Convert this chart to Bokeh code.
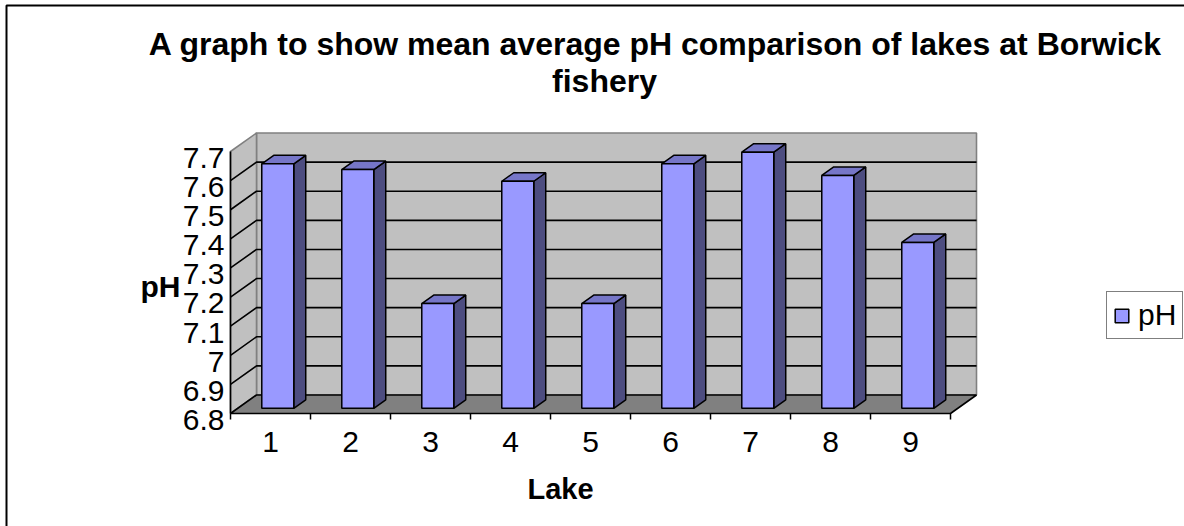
from bokeh.plotting import figure
from bokeh.models import (FixedTicker, CustomJSTickFormatter, Label, Legend,
                          LegendItem, Range1d)
from bokeh.embed import file_html
from bokeh.resources import INLINE

# ---------------- data ----------------
lakes = ["1", "2", "3", "4", "5", "6", "7", "8", "9"]
ph = [7.64, 7.62, 7.16, 7.58, 7.16, 7.64, 7.68, 7.60, 7.37]
y_ticks = [6.8, 6.9, 7.0, 7.1, 7.2, 7.3, 7.4, 7.5, 7.6, 7.7]
title_lines = ["A graph to show mean average pH comparison of lakes at Borwick",
               "fishery"]
x_title = "Lake"
y_title = "pH"
series_name = "pH"

# ---------------- geometry ----------------
FONT = "Liberation Sans"
W, H = 1184, 526
PX_PER_CAT = 80.0
PX_PER_VAL = 291.1
FRONT_LEFT_PX, FRONT_BOTTOM_PX = 230, 413
Y_MIN, Y_MAX = y_ticks[0], y_ticks[-1]
N = len(lakes)
DX = 26 / PX_PER_CAT          # depth offset (category units)
DY = 18.5 / PX_PER_VAL        # depth offset (value units)
BAR_HALF = 0.2
D_FRONT, D_BACK = 0.28, 0.74
LABEL_SHIFT = 0.022


def px_x(px):
    return 0.5 + (px - FRONT_LEFT_PX) / PX_PER_CAT


def px_y(py):
    return Y_MIN + (FRONT_BOTTOM_PX - py) / PX_PER_VAL


def P(c, v, d):
    return c + d * DX, v + d * DY


def poly(points):
    pts = [P(*pt) for pt in points]
    return [q[0] for q in pts], [q[1] for q in pts]


p = figure(width=W, height=H, output_backend="svg", toolbar_location=None, title=None,
           x_range=Range1d(px_x(0), px_x(W)), y_range=Range1d(px_y(H), px_y(0)),
           min_border=0, min_border_left=0, min_border_right=0,
           min_border_top=0, min_border_bottom=0)
p.outline_line_color = None
p.xgrid.visible = False
p.ygrid.visible = False
p.background_fill_color = "white"
p.border_fill_color = "white"

L, R = 0.5, N + 0.5

# chart border (left and top edges visible)
p.line([px_x(6), px_x(6), px_x(W + 5)], [px_y(H + 5), px_y(5), px_y(5)],
       line_color="black", line_width=2)

# back wall
bx, by = poly([(L, Y_MIN, 1), (R, Y_MIN, 1), (R, Y_MAX, 1), (L, Y_MAX, 1)])
p.patch(bx, by, fill_color="#C0C0C0", line_color="#808080", line_width=1.6)
# left wall
lx, ly = poly([(L, Y_MIN, 0), (L, Y_MIN, 1), (L, Y_MAX, 1), (L, Y_MAX, 0)])
p.patch(lx, ly, fill_color="#C0C0C0", line_color="#808080", line_width=1.6)

# gridlines (side wall + back wall)
gx, gy = [], []
for v in y_ticks[1:-1]:
    a = P(L, v, 0); b = P(L, v, 1); c = P(R, v, 1)
    gx.append([a[0], b[0], c[0]]); gy.append([a[1], b[1], c[1]])
p.multi_line(gx, gy, line_color="black", line_width=1.6)

# floor
fx, fy = poly([(L, Y_MIN, 0), (R, Y_MIN, 0), (R, Y_MIN, 1), (L, Y_MIN, 1)])
p.patch(fx, fy, fill_color="#808080", line_color="black", line_width=1.6)

# front edge of side wall
ex, ey = poly([(L, Y_MIN, 0), (L, Y_MAX, 0)])
p.line(ex, ey, line_color="black", line_width=1.6)

# bars
front_x, front_y, side_x, side_y, top_x, top_y = [], [], [], [], [], []
for i, v in enumerate(ph):
    c = i + 1
    xa, xb = c - BAR_HALF, c + BAR_HALF
    x_, y_ = poly([(xa, Y_MIN, D_FRONT), (xb, Y_MIN, D_FRONT), (xb, v, D_FRONT), (xa, v, D_FRONT)])
    front_x.append(x_); front_y.append(y_)
    x_, y_ = poly([(xb, Y_MIN, D_FRONT), (xb, Y_MIN, D_BACK), (xb, v, D_BACK), (xb, v, D_FRONT)])
    side_x.append(x_); side_y.append(y_)
    x_, y_ = poly([(xa, v, D_FRONT), (xb, v, D_FRONT), (xb, v, D_BACK), (xa, v, D_BACK)])
    top_x.append(x_); top_y.append(y_)

p.patches(side_x, side_y, fill_color="#4D4D80", line_color="black", line_width=1.5)
p.patches(top_x, top_y, fill_color="#7676C8", line_color="black", line_width=1.5)
bars = p.patches(front_x, front_y, fill_color="#9999FF", line_color="black", line_width=1.5)

# axes (fixed at the front edges of the 3-D box)
xa = p.xaxis[0]
xa.fixed_location = Y_MIN
xa.ticker = FixedTicker(ticks=list(range(1, N + 1)),
                        minor_ticks=[k + 0.5 for k in range(0, N + 1)])
xa.major_label_overrides = {i + 1: lab for i, lab in enumerate(lakes)}
xa.axis_line_color = None
xa.major_tick_line_color = None
xa.minor_tick_line_color = "black"
xa.minor_tick_line_width = 1.5
xa.minor_tick_in = 0
xa.minor_tick_out = 6
xa.major_label_standoff = 12
xa.major_label_text_font = FONT
xa.major_label_text_font_size = "30px"
xa.major_label_text_color = "black"

ya = p.yaxis[0]
ya.fixed_location = L
ya.ticker = FixedTicker(ticks=[t - LABEL_SHIFT for t in y_ticks], minor_ticks=[])
ya.formatter = CustomJSTickFormatter(
    args=dict(shift=LABEL_SHIFT),
    code="return String(Number((tick + shift).toFixed(1)));")
ya.axis_line_color = None
ya.major_tick_line_color = None
ya.minor_tick_line_color = None
ya.major_label_standoff = 0
ya.major_label_text_font = FONT
ya.major_label_text_font_size = "30px"
ya.major_label_text_color = "black"

# titles
label_style = dict(text_align="center", text_baseline="middle", text_font=FONT,
                   text_font_style="bold", text_color="black")
p.add_layout(Label(x=px_x(655), y=px_y(43), text=title_lines[0],
                   text_font_size="32px", **label_style))
p.add_layout(Label(x=px_x(604), y=px_y(80), text=title_lines[1],
                   text_font_size="32px", **label_style))
p.add_layout(Label(x=px_x(160), y=px_y(286), text=y_title,
                   text_font_size="30px", **label_style))
p.add_layout(Label(x=px_x(560), y=px_y(488), text=x_title,
                   text_font_size="29px", **label_style))

legend = Legend(items=[LegendItem(label=series_name, renderers=[bars])],
                location=(1106, H - 339), border_line_color="black", border_line_width=1.5,
                background_fill_color="white", background_fill_alpha=1.0,
                padding=6, spacing=0, margin=0, glyph_width=17, glyph_height=17,
                label_standoff=8, label_height=27, label_text_font=FONT,
                label_text_font_size="30px", label_text_color="black")
p.add_layout(legend)

open("out.html", "w").write(file_html(p, INLINE))
